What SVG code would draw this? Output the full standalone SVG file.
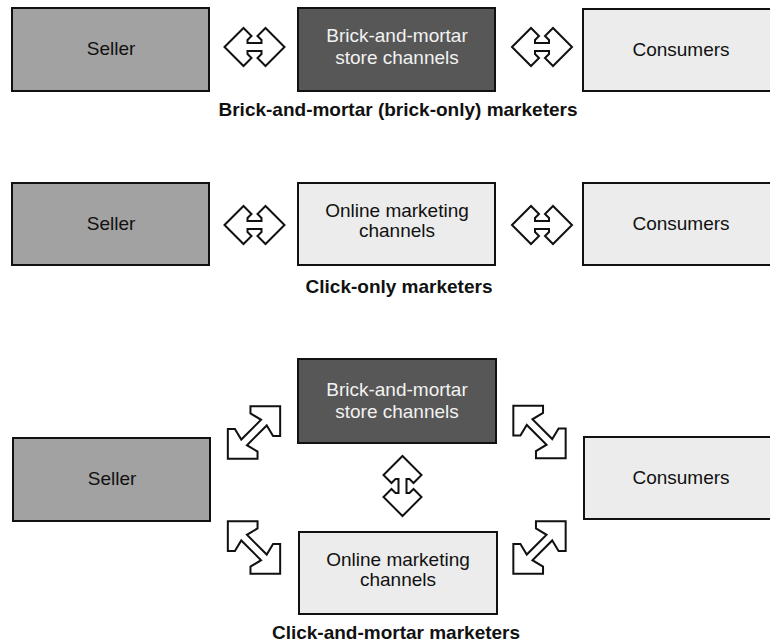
<svg xmlns="http://www.w3.org/2000/svg" width="770" height="643" viewBox="0 0 770 643">
<defs>
<style>
.box{stroke:#111;stroke-width:2}
.seller{fill:#a2a2a2}
.brick{fill:#575757}
.light{fill:#ececec}
.t{font-family:"Liberation Sans",Arial,sans-serif;font-size:19px;fill:#111;text-anchor:middle}
.tw{font-family:"Liberation Sans",Arial,sans-serif;font-size:19px;fill:#f2f2f2;text-anchor:middle}
.lbl{font-family:"Liberation Sans",Arial,sans-serif;font-size:19px;font-weight:bold;fill:#111;text-anchor:middle}
.arr{fill:#fff;stroke:#111;stroke-width:2;stroke-linejoin:miter}
</style>
<polygon id="dbl" points="-30,0 -11,-19 -3,-11 -7,-7 -7,-4 7,-4 7,-7 3,-11 11,-19 30,0 11,19 3,11 7,7 7,4 -7,4 -7,7 -3,11 -11,19"/>
<polygon id="diag" points="37,0 16,21 11,16 14,4 -14,4 -11,16 -16,21 -37,0 -16,-21 -11,-16 -14,-4 14,-4 11,-16 16,-21"/>
</defs>
<rect width="770" height="643" fill="#fff"/>

<!-- Row 1 -->
<g id="seller1"><rect class="box seller" x="12" y="8" width="197" height="83"/><text class="t" x="111" y="55">Seller</text></g>
<g id="brick1"><rect class="box brick" x="298" y="8" width="197" height="83"/><text class="tw" x="397" y="42">Brick-and-mortar</text><text class="tw" x="397" y="64">store channels</text></g>
<g id="consumers1"><rect class="box light" x="583" y="9" width="200" height="82"/><text class="t" x="681" y="56">Consumers</text></g>
<text id="label1" class="lbl" x="398" y="116">Brick-and-mortar (brick-only) marketers</text>

<!-- Row 2 -->
<g id="seller2"><rect class="box seller" x="12" y="183" width="197" height="82"/><text class="t" x="111" y="230">Seller</text></g>
<g id="online2"><rect class="box light" x="298" y="183" width="197" height="82"/><text class="t" x="397" y="217">Online marketing</text><text class="t" x="397" y="237">channels</text></g>
<g id="consumers2"><rect class="box light" x="583" y="183" width="200" height="82"/><text class="t" x="681" y="230">Consumers</text></g>
<text id="label2" class="lbl" x="399" y="293">Click-only marketers</text>

<!-- Row 3 -->
<g id="brick3"><rect class="box brick" x="298" y="359" width="198" height="84"/><text class="tw" x="397" y="396">Brick-and-mortar</text><text class="tw" x="397" y="418">store channels</text></g>
<g id="seller3"><rect class="box seller" x="13" y="438" width="197" height="83"/><text class="t" x="112" y="485">Seller</text></g>
<g id="consumers3"><rect class="box light" x="584" y="437" width="200" height="82"/><text class="t" x="681" y="484">Consumers</text></g>
<g id="online3"><rect class="box light" x="299" y="532" width="198" height="82"/><text class="t" x="398" y="566">Online marketing</text><text class="t" x="398" y="586">channels</text></g>
<text id="label3" class="lbl" x="396" y="639">Click-and-mortar marketers</text>

<!-- Connectors -->
<g id="connectors">
<use href="#dbl" class="arr" transform="translate(254.5,47)"/>
<use href="#dbl" class="arr" transform="translate(542,47)"/>
<use href="#dbl" class="arr" transform="translate(254.5,225)"/>
<use href="#dbl" class="arr" transform="translate(542,225)"/>
<use href="#dbl" class="arr" transform="translate(402.5,486) rotate(90)"/>
<use href="#diag" class="arr" transform="translate(254,432.5) rotate(-45)"/>
<use href="#diag" class="arr" transform="translate(539.5,432) rotate(45)"/>
<use href="#diag" class="arr" transform="translate(254,547.5) rotate(45)"/>
<use href="#diag" class="arr" transform="translate(539.5,547.5) rotate(-45)"/>
</g>
</svg>
